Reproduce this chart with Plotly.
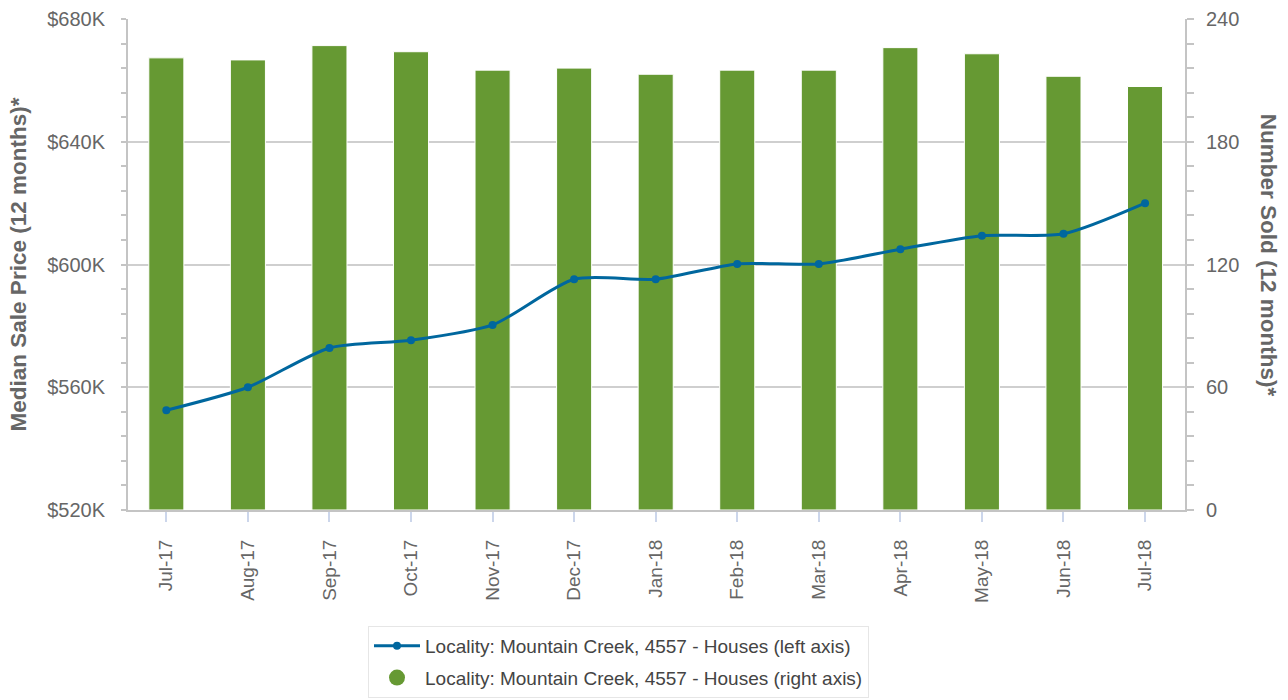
import plotly.graph_objects as go

# Monthly rolling 12-month figures for Mountain Creek, 4557 (houses)
months = ["Jul-17", "Aug-17", "Sep-17", "Oct-17", "Nov-17", "Dec-17", "Jan-18",
          "Feb-18", "Mar-18", "Apr-18", "May-18", "Jun-18", "Jul-18"]
median_price = [552500, 560000, 572800, 575300, 580300, 595200, 595200,
                600200, 600200, 605000, 609400, 610000, 620000]
number_sold = [221, 220, 227, 224, 215, 216, 213, 215, 215, 226, 223, 212, 207]

price_ticks = [520000, 560000, 600000, 640000, 680000]
price_labels = ["$520K", "$560K", "$600K", "$640K", "$680K"]
count_ticks = [0, 60, 120, 180, 240]

series_name_left = "Locality: Mountain Creek, 4557 - Houses (left axis)"
series_name_right = "Locality: Mountain Creek, 4557 - Houses (right axis)"

GREEN = "#669933"
BLUE = "#00679e"
AXIS_GREY = "#c4c4c4"
GRID_GREY = "#cfcfcf"
LABEL_GREY = "#666666"
FONT = "Liberation Sans, Arial, sans-serif"

PLOT_L, PLOT_R, PLOT_T, PLOT_B = 128, 1185, 19, 510
plot_w = PLOT_R - PLOT_L
plot_h = PLOT_B - PLOT_T

fig = go.Figure()

# Number sold: bars on the right-hand axis
fig.add_trace(go.Bar(
    x=months, y=number_sold, yaxis="y",
    marker=dict(color=GREEN, line=dict(color="white", width=1)),
    width=0.43, showlegend=False, hoverinfo="x+y",
))

# Median sale price: smoothed line on the left-hand axis
fig.add_trace(go.Scatter(
    x=months, y=median_price, yaxis="y2", name=series_name_left,
    mode="lines+markers", line=dict(color=BLUE, width=3, shape="spline", smoothing=0.7),
    marker=dict(color=BLUE, size=8), legendgroup="a",
))

# Legend entry for the bar series, shown as a round swatch
fig.add_trace(go.Scatter(
    x=[None], y=[None], yaxis="y", name=series_name_right, mode="markers",
    marker=dict(color=GREEN, size=16), legendgroup="b",
))

fig.update_layout(
    width=1288, height=700, autosize=False,
    margin=dict(l=PLOT_L, r=1288 - PLOT_R, t=PLOT_T, b=700 - PLOT_B, autoexpand=False),
    paper_bgcolor="white", plot_bgcolor="white",
    font=dict(family=FONT, color=LABEL_GREY),
    xaxis=dict(
        type="category", range=[-0.47, 12.49], automargin=False,
        showline=True, linecolor=AXIS_GREY, linewidth=2,
        ticks="outside", ticklen=10, tickwidth=1.5, tickcolor="#ccd6eb",
        tickangle=-90, tickfont=dict(size=19, color=LABEL_GREY),
        ticklabelstandoff=10,
        showgrid=False, zeroline=False,
    ),
    yaxis=dict(
        side="right", range=[0, 240], tickvals=count_ticks, automargin=False,
        showline=True, linecolor=AXIS_GREY, linewidth=2,
        ticks="outside", ticklen=7, tickwidth=1.5, tickcolor=AXIS_GREY,
        minor=dict(dtick=12, tick0=0, ticks="outside", ticklen=7,
                   tickwidth=1.5, tickcolor=AXIS_GREY, showgrid=False),
        tickfont=dict(size=20, color=LABEL_GREY), ticklabelstandoff=8,
        showgrid=True, gridcolor=GRID_GREY, gridwidth=1.5, zeroline=False,
    ),
    yaxis2=dict(
        side="left", overlaying="y", range=[520000, 680000], automargin=False,
        tickvals=price_ticks, ticktext=price_labels,
        showline=True, linecolor=AXIS_GREY, linewidth=2,
        ticks="outside", ticklen=5, tickwidth=1.5, tickcolor=AXIS_GREY,
        minor=dict(dtick=8000, tick0=520000, ticks="outside", ticklen=5,
                   tickwidth=1.5, tickcolor=AXIS_GREY, showgrid=False),
        tickfont=dict(size=20, color=LABEL_GREY), ticklabelstandoff=12,
        title=dict(text="<b>Median Sale Price (12 months)*</b>", standoff=14,
                   font=dict(size=22.5, color=LABEL_GREY)),
        showgrid=False, zeroline=False,
    ),
    legend=dict(
        x=(368 - PLOT_L) / plot_w, xanchor="left",
        y=(PLOT_B - 626) / plot_h, yanchor="top",
        bordercolor="#e6e6e6", borderwidth=1, bgcolor="white",
        font=dict(family=FONT, size=19, color="#444444"),
        traceorder="grouped", tracegroupgap=4, itemsizing="trace",
        itemwidth=46,
    ),
    annotations=[dict(
        text="<b>Number Sold (12 months)*</b>", textangle=90,
        xref="paper", yref="paper", x=(1268 - PLOT_L) / plot_w, y=0.52,
        xanchor="center", yanchor="middle", showarrow=False,
        font=dict(family=FONT, size=22.5, color=LABEL_GREY),
    )],
)

fig.write_html("out.html")
